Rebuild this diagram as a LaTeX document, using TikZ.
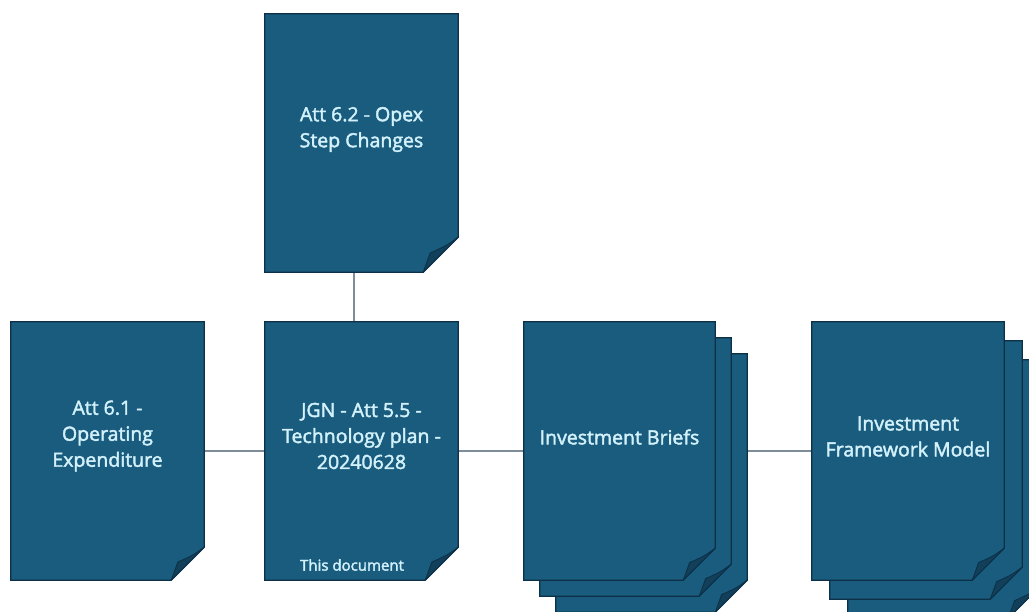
\documentclass[tikz,border=0pt]{standalone}
\usepackage{fontspec}
\newfontfamily\docfont{Open Sans}[FakeBold=2.2]
\definecolor{pagefill}{HTML}{1A5C7E}
\definecolor{pageedge}{HTML}{0D3048}
\definecolor{folddark}{HTML}{123F5A}
\definecolor{txt}{HTML}{D2F1FB}
\definecolor{connc}{HTML}{7D8E9A}
\tikzset{
  page/.style={draw=none, minimum width=193pt, minimum height=258pt, inner sep=0pt},
  lbl/.style={text=txt, font=\docfont\fontsize{19.5}{26}\selectfont, align=center, inner sep=0pt},
  small/.style={text=txt, font=\docfont\fontsize{15}{16}\selectfont, inner sep=0pt},
  conn/.style={draw=connc, line width=2pt},
}
\newcommand\pageshape[2]{%
  \filldraw[fill=pagefill, draw=pageedge, line width=1.3pt, line join=miter]
    (#1.north west) -- (#1.north east) -- ([yshift=#2]#1.south east)
    -- ([xshift=-#2]#1.south east) -- (#1.south west) -- cycle;
  \filldraw[fill=folddark, draw=pageedge, line width=0.8pt, line join=round]
    ([yshift=#2]#1.south east)
    .. controls ([xshift=-0.35*#2, yshift=0.75*#2]#1.south east) .. ([xshift=-0.8*#2, yshift=0.55*#2]#1.south east)
    -- ([xshift=-#2]#1.south east) -- cycle;
}
\begin{document}
\begin{tikzpicture}[x=1pt, y=-1pt]
\useasboundingbox (0,0) rectangle (1029,612);
\clip (0,0) rectangle (1029,612);
% nodes (positions)
\node[page] (T)   at (361.5,143) {};
\node[page] (L)   at (107.5,451) {};
\node[page] (C)   at (361.5,451) {};
\node[page, minimum width=191pt] (ib3) at (651.5,483) {};
\node[page, minimum width=191pt] (ib2) at (635.5,467) {};
\node[page, minimum width=191pt] (ib)  at (619.5,451) {};
\node[page, minimum width=192pt] (ifm3) at (944,489) {};
\node[page, minimum width=192pt] (ifm2) at (926,470) {};
\node[page, minimum width=192pt] (ifm)  at (908,451) {};
% connectors
\draw[conn] ([xshift=-8pt]T.south) -- ([xshift=-8pt]C.north);
\draw[conn] (L.east) -- (C.west);
\draw[conn] (C.east) -- (ib.west);
\draw[conn] (ib.east -| ib3.east) -- (ifm.west);
% pages
\pageshape{T}{35}
\pageshape{L}{33}
\pageshape{C}{33}
\pageshape{ib3}{32}
\pageshape{ib2}{32}
\pageshape{ib}{32}
\pageshape{ifm3}{32}
\pageshape{ifm2}{32}
\pageshape{ifm}{32}
% labels
\node[lbl] (tT) at (361.5,129.5) {Att 6.2 - Opex\\Step Changes};
\node[lbl] (tL) at (107.5,436) {Att 6.1 -\\Operating\\Expenditure};
\node[lbl] (tC) at (361.5,436) {JGN - Att 5.5 -\\Technology plan -\\20240628};
\node[small] (tC2) at (352,565) {This document};
\node[lbl] (tib) at (619.5,437) {Investment Briefs};
\node[lbl] (tifm) at (908,436.5) {Investment\\Framework Model};
\end{tikzpicture}
\end{document}
